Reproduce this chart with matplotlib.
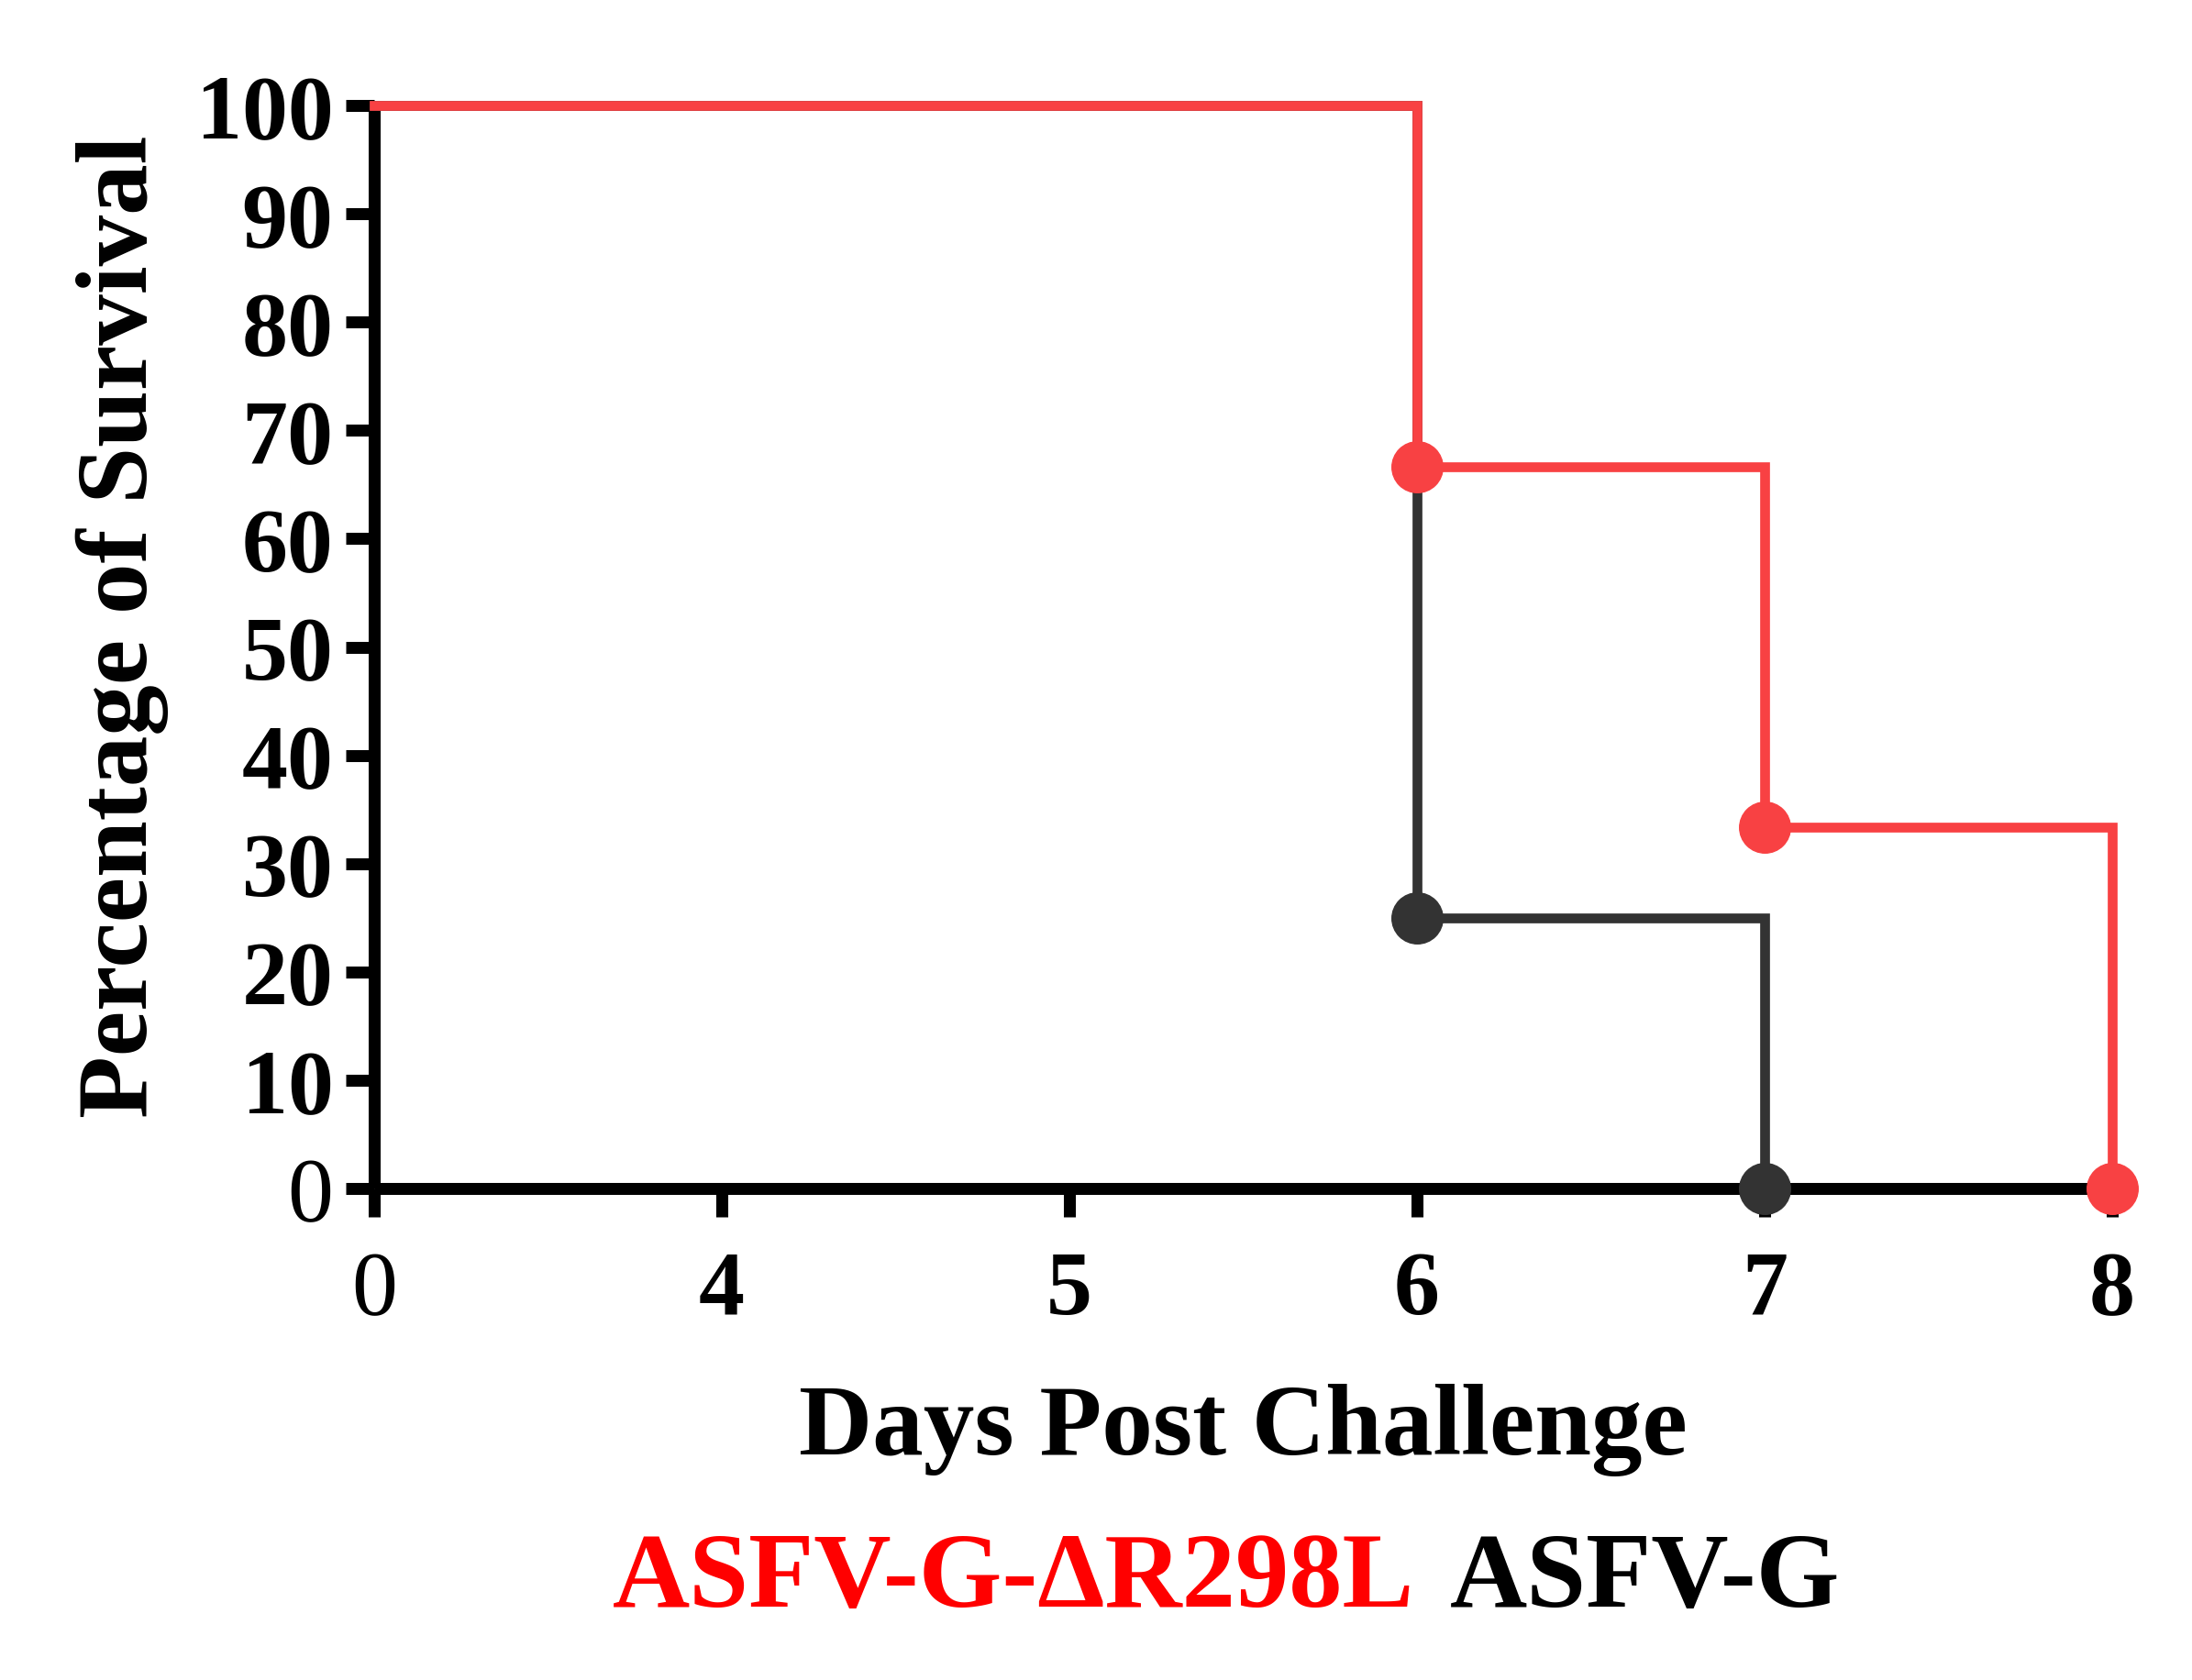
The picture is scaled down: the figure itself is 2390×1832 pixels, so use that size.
import matplotlib
matplotlib.use("Agg")
import matplotlib.pyplot as plt

# ---- data ----
days = ["0", "4", "5", "6", "7", "8"]
mutant_survival = [100, 100, 100, 66.67, 33.33, 0]      # ASFV-G-ΔR298L
parental_survival = [100, 100, 100, 25, 0]             # ASFV-G
mutant_event_idx = [3, 4, 5]
parental_event_idx = [3, 4]
yticks = [0, 10, 20, 30, 40, 50, 60, 70, 80, 90, 100]

RED_LINE = "#F84143"
BLACK_LINE = "#333333"

plt.rcParams['font.family'] = ['Liberation Serif', 'DejaVu Serif']
plt.rcParams['font.weight'] = 'bold'

fig = plt.figure(figsize=(23.9, 18.33), dpi=100)
ax = fig.add_axes([0.1707, 0.2924, 0.9636 - 0.1707, 0.9367 - 0.2924])

x = list(range(len(days)))
ax.plot(x[:len(parental_survival)], parental_survival, drawstyle='steps-post',
        color=BLACK_LINE, lw=7.7, marker='o', markersize=40,
        markevery=parental_event_idx, clip_on=False, zorder=3,
        solid_joinstyle='miter')
ax.plot(x, mutant_survival, drawstyle='steps-post',
        color=RED_LINE, lw=7.7, marker='o', markersize=40,
        markevery=mutant_event_idx, clip_on=False, zorder=4,
        solid_joinstyle='miter')

ax.set_xlim(0, len(days) - 1)
ax.set_ylim(0, 100)
ax.set_xticks(x)
ax.set_xticklabels(days)
ax.set_yticks(yticks)
ax.set_yticklabels([str(v) for v in yticks])

for s in ['top', 'right']:
    ax.spines[s].set_visible(False)
for s in ['left', 'bottom']:
    ax.spines[s].set_linewidth(9.4)
    ax.spines[s].set_color('black')
    ax.spines[s].set_capstyle('butt')

ax.tick_params(axis='both', width=9.4, length=22, color='black',
               labelsize=72)
ax.tick_params(axis='y', pad=10)
ax.tick_params(axis='x', pad=26)
for lab in ax.get_xticklabels() + ax.get_yticklabels():
    lab.set_fontweight('normal' if lab.get_text() == '0' else 'bold')

ax.set_xlabel("Days Post Challenge", fontsize=80, fontweight='bold', labelpad=40)
ax.set_ylabel("Percentage of Survival", fontsize=80, fontweight='bold')
ax.yaxis.set_label_coords(-0.118, 0.52)

# two-coloured legend line
t1 = fig.text(0.6454, 0.044, "ASFV-G-ΔR298L", color='#FF0000', fontsize=84,
              fontweight='bold', ha='right', va='baseline')
t2 = fig.text(0.6614, 0.044, "ASFV-G", color='black', fontsize=84,
              fontweight='bold', ha='left', va='baseline')

fig.savefig("out.png", dpi=100, facecolor='white')
